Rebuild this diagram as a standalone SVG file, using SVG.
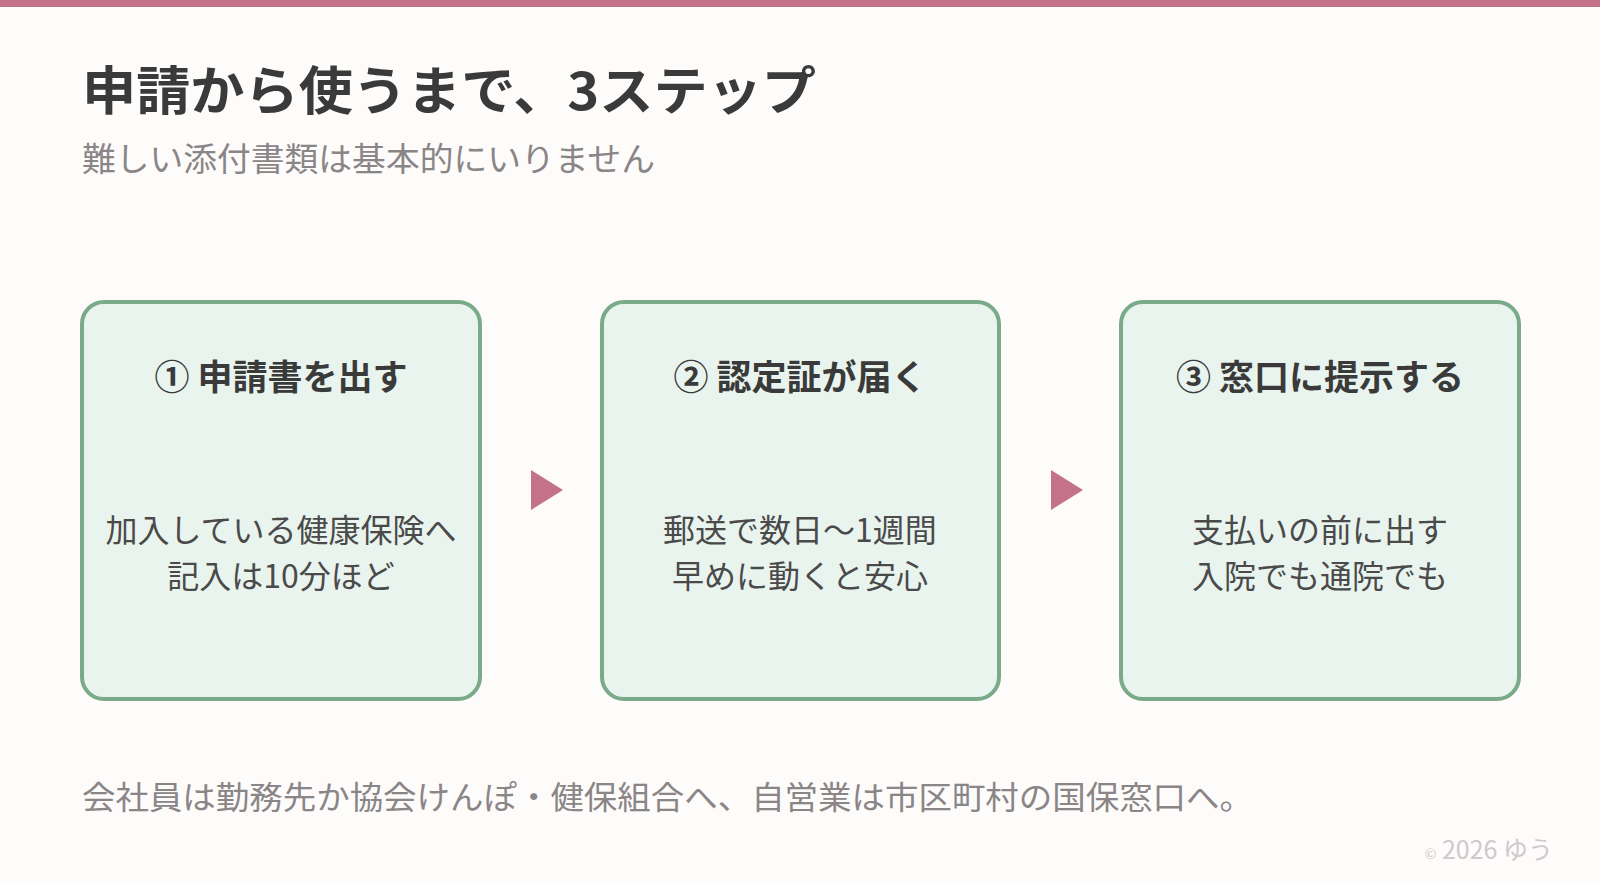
<svg xmlns="http://www.w3.org/2000/svg" width="1600" height="884" viewBox="0 0 1600 884">
<style>
text{font-family:"Noto Sans CJK JP","Noto Sans",sans-serif}
.box{fill:#e9f4ee;stroke:#7aaa8a;stroke-width:4}
.h{font-size:35px;font-weight:700;fill:#3a3a3a;text-anchor:middle}
.b{font-size:32px;fill:#4a4a4a;text-anchor:middle}
.arr{fill:#c4728a}
</style>
<rect width="1600" height="884" fill="#fdfcfa"/>
<rect width="1600" height="7" fill="#c4728a"/>
<text x="82" y="110" font-size="52" font-weight="700" fill="#3a3a3a" textLength="734" lengthAdjust="spacingAndGlyphs">申請から使うまで、3ステップ</text>
<text x="82" y="171" font-size="33" fill="#8a8587" textLength="573" lengthAdjust="spacingAndGlyphs">難しい添付書類は基本的にいりません</text>
<g id="step1"><rect class="box" x="82" y="302" width="398" height="397" rx="22"/>
<text class="h" x="281" y="390">① 申請書を出す</text>
<text class="b" x="281" y="542">加入している健康保険へ</text>
<text class="b" x="281" y="588">記入は10分ほど</text></g>
<g id="step2"><rect class="box" x="602" y="302" width="397" height="397" rx="22"/>
<text class="h" x="800" y="390">② 認定証が届く</text>
<text class="b" x="800" y="542">郵送で数日〜1週間</text>
<text class="b" x="800" y="588">早めに動くと安心</text></g>
<g id="step3"><rect class="box" x="1121" y="302" width="398" height="397" rx="22"/>
<text class="h" x="1320" y="390">③ 窓口に提示する</text>
<text class="b" x="1320" y="542">支払いの前に出す</text>
<text class="b" x="1320" y="588">入院でも通院でも</text></g>
<g id="connectors">
<polygon class="arr" points="531,470 563,490 531,510"/>
<polygon class="arr" points="1051,470 1083,490 1051,510"/>
</g>
<text x="82" y="809" font-size="32" fill="#8a8587" textLength="1171" lengthAdjust="spacingAndGlyphs">会社員は勤務先か協会けんぽ・健保組合へ、自営業は市区町村の国保窓口へ。</text>
<text x="1553" y="859" font-size="25" fill="#d0c8cc" text-anchor="end"><tspan font-size="14">©</tspan> 2026 ゆう</text>
</svg>
